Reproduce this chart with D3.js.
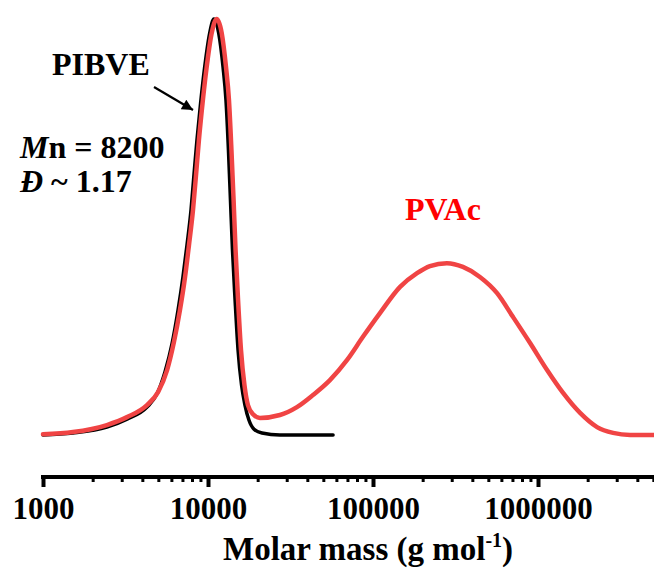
<!DOCTYPE html>
<html><head><meta charset="utf-8">
<script src="https://cdn.jsdelivr.net/npm/d3@7"></script>
<style>body{margin:0;background:#fff}svg{display:block}</style>
</head><body>
<svg id="c" width="654" height="568"></svg>
<script>
// PIBVE (black) trace: molar mass (g/mol) and normalised detector signal
const pibveMass = [1000, 1520, 2440, 3230, 4270, 4910, 5480, 6050, 6580, 7050, 7460, 7890, 8220, 8570, 9020, 9530, 10210, 10860, 11610, 12330, 12850, 13300, 13680, 14070, 14590, 15210, 15970, 16750, 17700, 19010, 21230, 27290, 57280];
const pibveSignal = [0.000, 0.005, 0.019, 0.038, 0.067, 0.099, 0.151, 0.219, 0.300, 0.380, 0.457, 0.541, 0.625, 0.709, 0.798, 0.882, 0.964, 1.000, 0.966, 0.885, 0.805, 0.685, 0.565, 0.445, 0.325, 0.204, 0.120, 0.072, 0.036, 0.014, 0.005, 0.000, 0.000];
// PVAc (red) trace
const pvacMass = [1000, 1520, 2440, 3230, 4270, 4980, 5650, 6220, 6760, 7260, 7670, 8110, 8460, 8810, 9270, 9800, 10500, 11300, 12110, 12850, 13400, 13870, 14290, 14690, 15210, 15850, 16630, 17460, 18750, 20650, 27290, 34590, 43250, 54830, 69500, 86900, 110200, 145900, 184900, 221300, 280500, 350800, 444600, 564900, 704700, 895400, 1135000, 1419000, 1799000, 2280000, 2851000, 3614000, 5047000];
const pvacSignal = [0.002, 0.007, 0.024, 0.043, 0.072, 0.103, 0.156, 0.224, 0.300, 0.380, 0.457, 0.541, 0.625, 0.709, 0.798, 0.882, 0.964, 1.000, 0.966, 0.885, 0.805, 0.685, 0.565, 0.445, 0.325, 0.204, 0.120, 0.072, 0.050, 0.041, 0.048, 0.067, 0.096, 0.132, 0.180, 0.236, 0.293, 0.356, 0.389, 0.406, 0.413, 0.404, 0.380, 0.341, 0.284, 0.221, 0.156, 0.101, 0.053, 0.019, 0.005, 0.000, 0.000];
const majorTicks = [1000, 10000, 100000, 1000000];
const xDomain = [1000, 5047000];
const xTitle = "Molar mass (g mol";

const FONT = "'Liberation Serif','Times New Roman',serif";
const svg = d3.select("#c");
const x = d3.scaleLog().domain(xDomain).range([43, 654]);
const y = d3.scaleLinear().domain([0, 1]).range([435, 19]);
const axisY = 477;

// minor ticks from the log scale (2..9 per decade)
const minorTicks = x.ticks().filter(t => !majorTicks.includes(t) && t <= xDomain[1]);

const g = svg.append("g").attr("transform", `translate(0,${axisY})`);
const minorAxis = d3.axisBottom(x).tickValues(minorTicks).tickSize(5).tickFormat("");
const majorAxis = d3.axisBottom(x).tickValues(majorTicks).tickSize(10).tickPadding(10).tickFormat(d3.format("d"));
const gm = g.append("g").call(minorAxis);
gm.select(".domain").remove();
gm.selectAll(".tick line").attr("stroke", "#000").attr("stroke-width", 3);
const gM = g.append("g").call(majorAxis);
gM.select(".domain").remove();
gM.selectAll(".tick line").attr("stroke", "#000").attr("stroke-width", 4);
gM.selectAll(".tick text").attr("fill", "#000").style("font-family", FONT).style("font-weight", "bold").style("font-size", "31px");
g.append("line").attr("x1", 41).attr("x2", 654).attr("y1", 0).attr("y2", 0).attr("stroke", "#000").attr("stroke-width", 4);

// axis title
const t = svg.append("text").attr("x", 223).attr("y", 560).style("font-family", FONT).style("font-weight", "bold").style("font-size", "33px").attr("fill", "#000");
t.append("tspan").text(xTitle);
t.append("tspan").attr("dy", -13).style("font-size", "20px").text("-1");
t.append("tspan").attr("dy", 13).text(")");

// curves
const line = d3.line().x(d => x(d[0])).y(d => y(d[1])).curve(d3.curveMonotoneX);
const pibve = pibveMass.map((m, i) => [m, pibveSignal[i]]);
const pvac = pvacMass.map((m, i) => [m, pvacSignal[i]]);
svg.append("path").attr("d", line(pibve)).attr("fill", "none").attr("stroke", "#000").attr("stroke-width", 3.5).attr("stroke-linecap", "round").attr("stroke-linejoin", "round");
svg.append("path").attr("d", line(pvac)).attr("fill", "none").attr("stroke", "#f04444").attr("stroke-width", 4.5).attr("stroke-linecap", "round").attr("stroke-linejoin", "round");

// annotations
const txt = (xx, yy, s, color) => svg.append("text").attr("x", xx).attr("y", yy).attr("fill", color || "#000").style("font-family", FONT).style("font-weight", "bold").style("font-size", "32px").text(s);
txt(52, 75, "PIBVE");
const mn = svg.append("text").attr("x", 20).attr("y", 158).attr("fill", "#000").style("font-family", FONT).style("font-weight", "bold").style("font-size", "32px");
mn.append("tspan").style("font-style", "italic").text("M");
mn.append("tspan").text("n = 8200");
const dd = svg.append("text").attr("x", 20).attr("y", 192).attr("fill", "#000").style("font-family", FONT).style("font-weight", "bold").style("font-size", "32px");
dd.append("tspan").style("font-style", "italic").text("Đ");
dd.append("tspan").text(" ~ 1.17");
txt(405, 220, "PVAc", "#ff0000");

// arrow
svg.append("defs").append("marker").attr("id", "ah").attr("viewBox", "0 0 10 10").attr("refX", 10).attr("refY", 5)
  .attr("markerWidth", 6).attr("markerHeight", 5).attr("markerUnits", "strokeWidth").attr("orient", "auto")
  .append("path").attr("d", "M0,0L10,5L0,10z").attr("fill", "#000");
svg.append("line").attr("x1", 154).attr("y1", 87).attr("x2", 193).attr("y2", 110).attr("stroke", "#000").attr("stroke-width", 2.2).attr("marker-end", "url(#ah)");
</script>
</body></html>
